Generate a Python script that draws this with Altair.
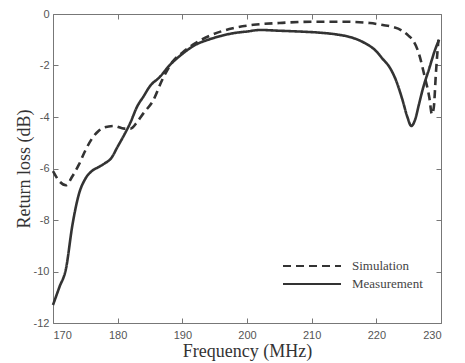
import altair as alt
import pandas as pd

# Measurement (solid)
meas_f = [170, 171, 172, 173, 174, 175, 176, 177, 178, 179, 180, 181, 182, 183, 184, 185,
          186.5, 188, 190, 192, 194, 196, 198, 200, 202, 205, 208, 211, 214, 216, 218, 220,
          221, 222, 223, 224, 224.8, 225.4, 226, 226.6, 227.2, 228.2, 229, 229.7]
meas_db = [-11.3, -10.6, -9.9, -8.2, -7.0, -6.4, -6.1, -5.95, -5.8, -5.6, -5.15, -4.7, -4.2,
           -3.6, -3.2, -2.8, -2.45, -2.0, -1.55, -1.2, -1.0, -0.85, -0.74, -0.68, -0.62, -0.65,
           -0.68, -0.72, -0.8, -0.9, -1.1, -1.45, -1.75, -2.05, -2.55, -3.3, -4.0, -4.35, -4.1,
           -3.5, -2.9, -2.1, -1.45, -1.0]

# Simulation (dashed)
sim_f = [170, 171, 172, 173, 174, 175, 176, 177, 178, 179.5, 181, 182, 183, 184, 185.4, 187,
         188.5, 190, 191.6, 194.2, 197.8, 201, 205, 210, 215, 219, 221, 222.5, 224, 225,
         225.6, 226.6, 227.4, 228.2, 228.6, 228.9, 229.2, 229.6]
sim_db = [-6.1, -6.5, -6.65, -6.3, -5.85, -5.3, -4.85, -4.55, -4.4, -4.35, -4.45, -4.45, -4.2,
          -3.85, -3.4, -2.5, -1.85, -1.5, -1.2, -0.85, -0.55, -0.42, -0.35, -0.3, -0.3, -0.35,
          -0.43, -0.5, -0.65, -0.85, -1.0, -1.55, -2.35, -3.25, -3.9, -3.6, -2.35, -1.0]

series = ["Simulation", "Measurement"]
x_ticks = [170, 180, 190, 200, 210, 220, 230]
y_ticks = [-12, -10, -8, -6, -4, -2, 0]

df = pd.concat([
    pd.DataFrame({"f": sim_f, "db": sim_db, "series": series[0]}),
    pd.DataFrame({"f": meas_f, "db": meas_db, "series": series[1]}),
], ignore_index=True)

W, H = 388, 309
xs = alt.Scale(domain=[170, 230], nice=False, zero=False)
ys = alt.Scale(domain=[-12, 0], nice=False, zero=False)

tick_style = dict(labels=False, domain=False, grid=False, title=None,
                  tickSize=5, offset=-5, tickColor="#777", tickWidth=1)

ticks_bl = alt.Chart(df).mark_line(opacity=0).encode(
    x=alt.X("f:Q", scale=xs, axis=alt.Axis(orient="bottom", values=x_ticks, **tick_style)),
    y=alt.Y("db:Q", scale=ys, axis=alt.Axis(orient="left", values=y_ticks, **tick_style)),
    detail="series:N",
)
ticks_tr = alt.Chart(df).mark_line(opacity=0).encode(
    x=alt.X("f:Q", scale=xs, axis=alt.Axis(orient="top", values=x_ticks, **tick_style)),
    y=alt.Y("db:Q", scale=ys, axis=alt.Axis(orient="right", values=y_ticks, **tick_style)),
    detail="series:N",
)

lines = alt.Chart(df).mark_line(strokeWidth=2.6, color="#333", interpolate="monotone").encode(
    x=alt.X("f:Q", scale=xs, axis=alt.Axis(
        orient="bottom", values=x_ticks, title="Frequency (MHz)", ticks=False, domain=False,
        grid=False, labelPadding=6, titlePadding=2, labelExpr="toString(datum.value)")),
    y=alt.Y("db:Q", scale=ys, axis=alt.Axis(
        orient="left", values=y_ticks, title="Return loss (dB)", ticks=False, domain=False,
        grid=False, labelPadding=4, titlePadding=0, labelExpr="toString(datum.value)")),
    strokeDash=alt.StrokeDash("series:N", sort=series,
                              scale=alt.Scale(domain=series, range=[[8, 5], [1, 0]]),
                              legend=alt.Legend(
                                  title=None, orient="none", legendX=248, legendY=241,
                                  symbolType="M-2.9,0H2.9", symbolSize=400, symbolStrokeWidth=2,
                                  symbolStrokeColor="#333", symbolFillColor="transparent",
                                  labelFont="Liberation Serif",
                                  labelFontSize=13, labelColor="#444", labelOffset=29,
                                  rowPadding=0, padding=0)),
)

chart = alt.layer(ticks_bl, ticks_tr, lines).resolve_axis(
    x="independent", y="independent"
).properties(
    width=W, height=H,
    autosize=alt.AutoSizeParams(type="none"),
    padding={"left": 45, "top": 6, "right": 15, "bottom": 40},
    background="white",
).configure_view(
    stroke="#777", strokeWidth=1
).configure_axis(
    labelFont="Liberation Sans", labelFontSize=11, labelColor="#555",
    titleFont="Liberation Serif", titleFontSize=18, titleColor="#333", titleFontWeight="normal",
)

chart.save("out.html", embed_options={"renderer": "svg", "actions": False})
